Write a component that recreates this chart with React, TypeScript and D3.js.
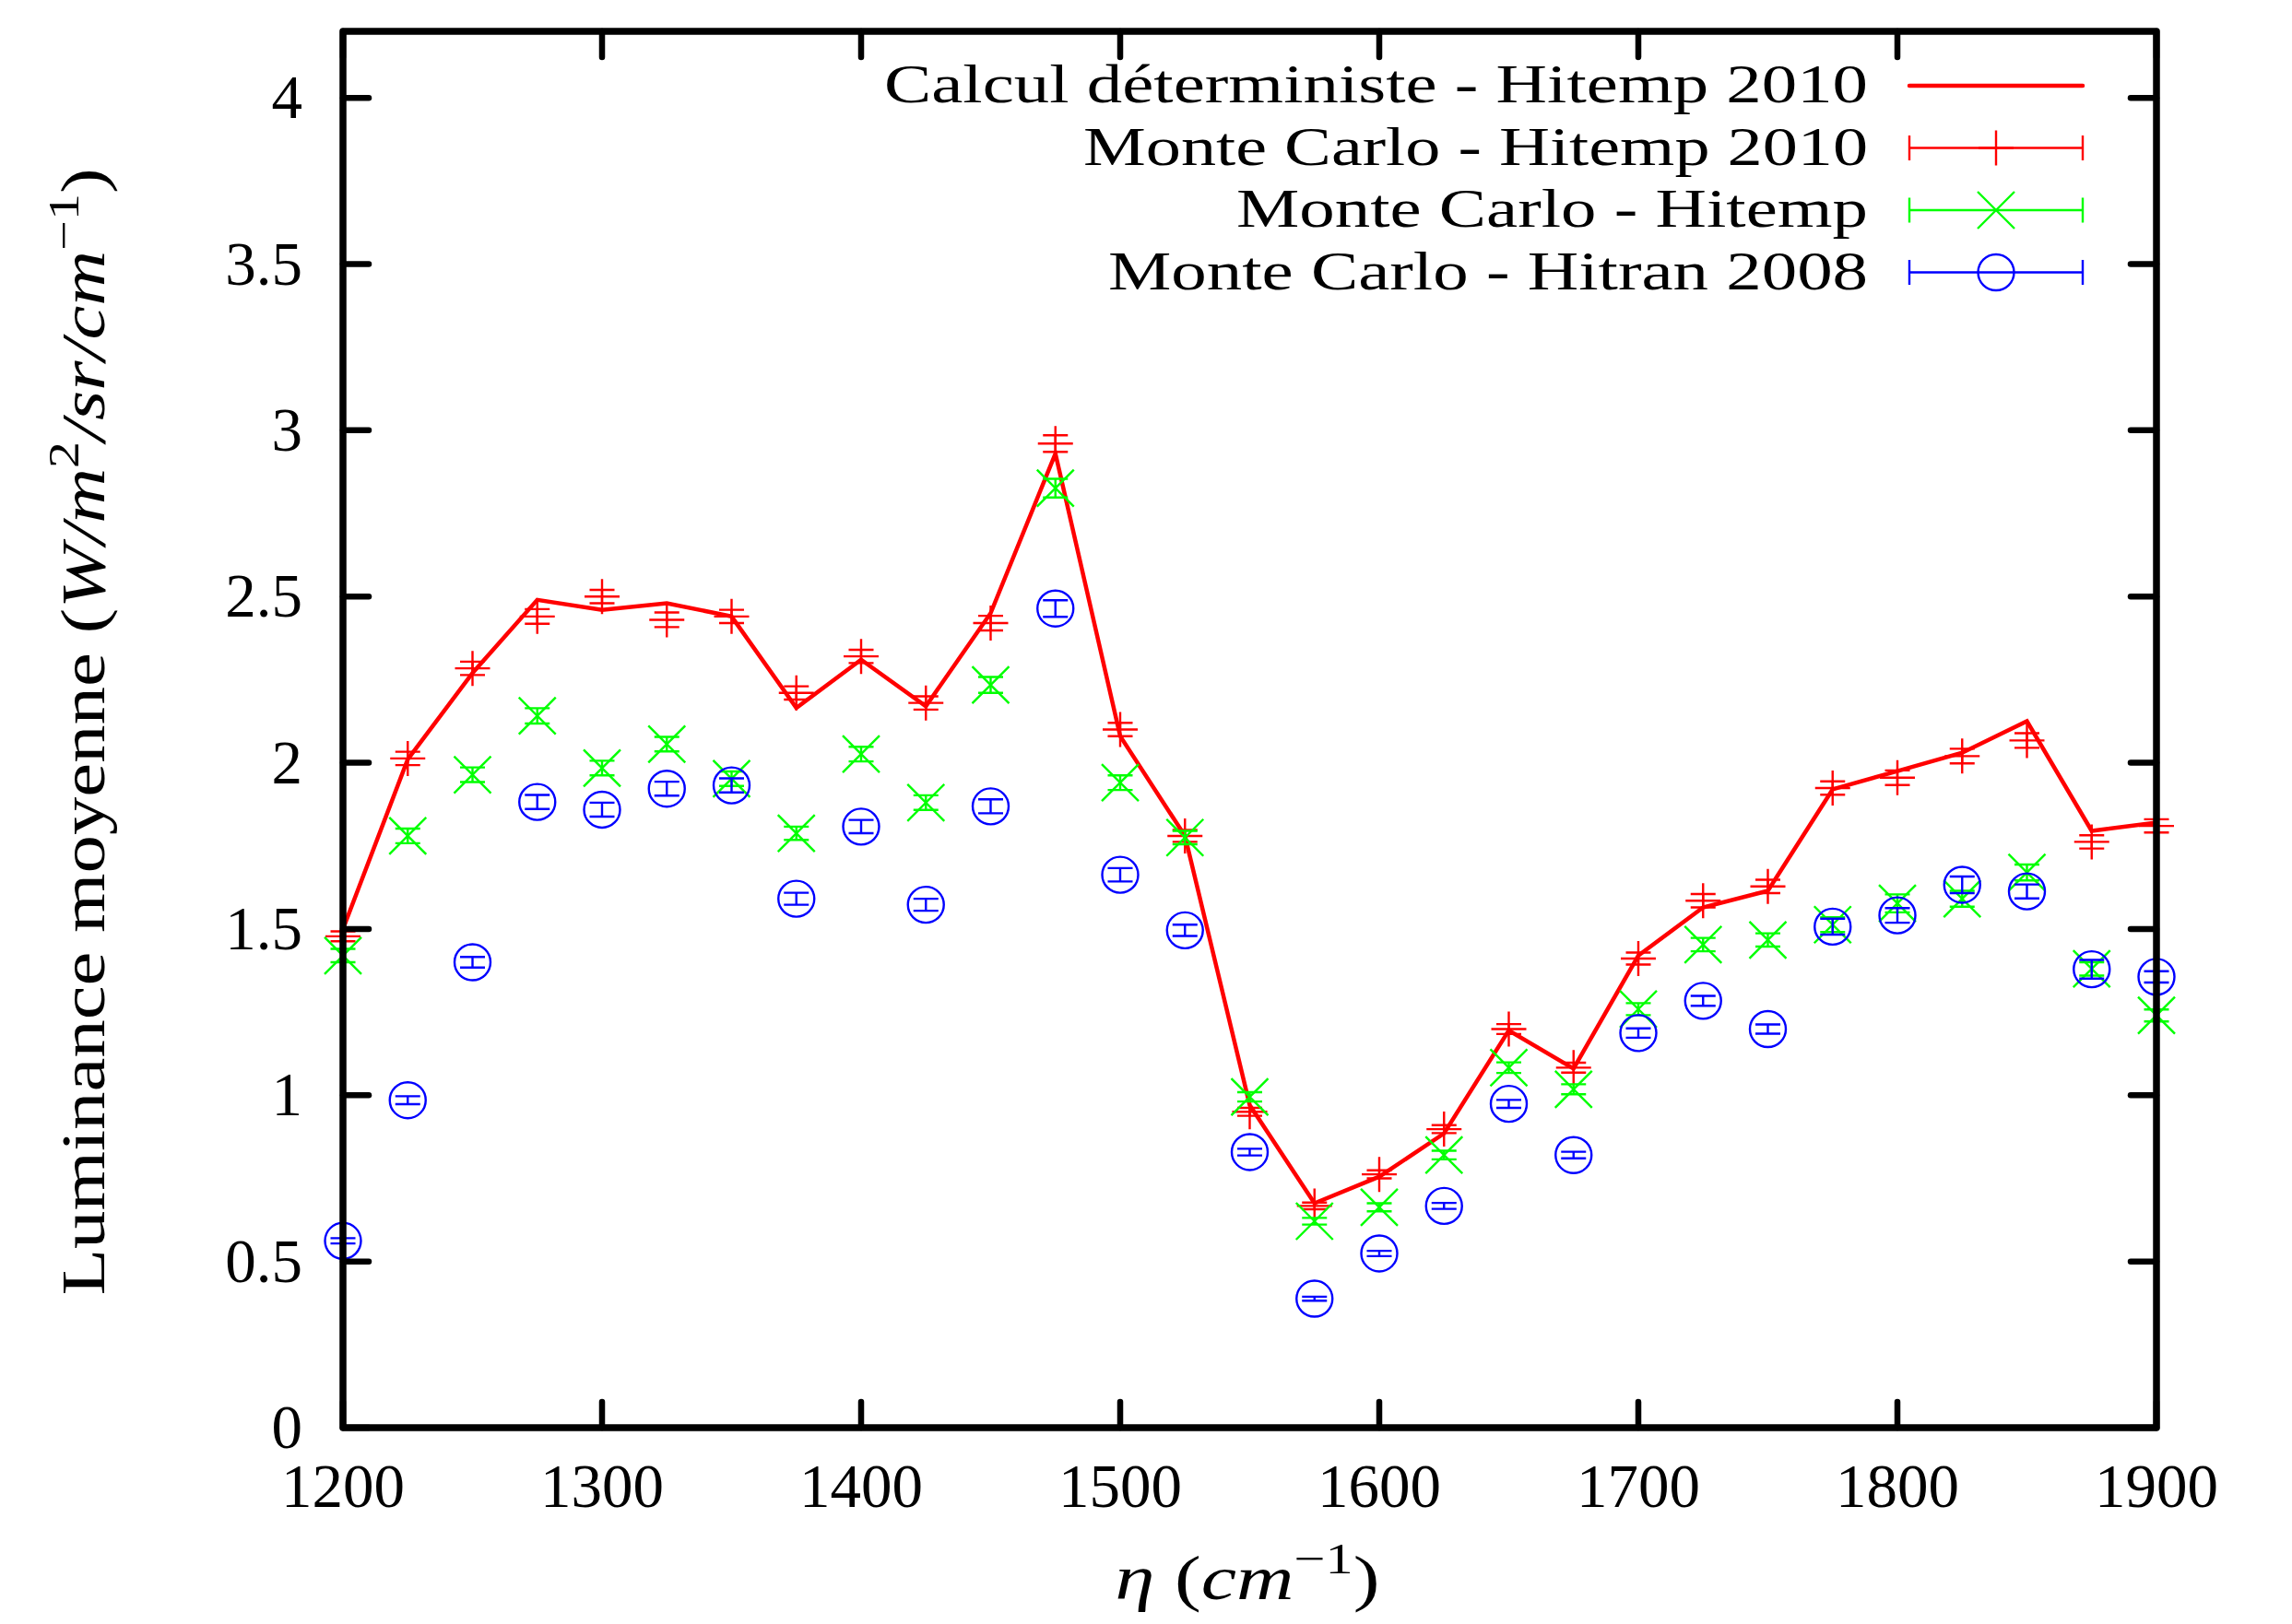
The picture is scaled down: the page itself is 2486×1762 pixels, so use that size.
import React, { useEffect } from "react";
import * as d3 from "d3";

// ---------- data ----------
const wavenumbers = [
  1200, 1225, 1250, 1275, 1300, 1325, 1350, 1375, 1400, 1425, 1450, 1475, 1500, 1525,
  1550, 1575, 1600, 1625, 1650, 1675, 1700, 1725, 1750, 1775, 1800, 1825, 1850, 1875, 1900,
];

const deterministic = [
  1.5, 2.01, 2.27, 2.49, 2.46, 2.48, 2.44, 2.165, 2.31, 2.17, 2.45, 2.93, 2.08, 1.78,
  0.97, 0.675, 0.755, 0.885, 1.195, 1.08, 1.42, 1.565, 1.615, 1.92, 1.975, 2.03, 2.125, 1.795, 1.82,
];

const mcHitemp2010 = [
  1.478, 2.013, 2.284, 2.44, 2.5, 2.43, 2.44, 2.21, 2.32, 2.18, 2.42, 2.96, 2.1, 1.78,
  0.95, 0.667, 0.762, 0.898, 1.199, 1.083, 1.411, 1.585, 1.628, 1.924, 1.955, 2.02, 2.067, 1.762, 1.81,
];
const mcHitemp2010Err = [
  0.015, 0.02, 0.02, 0.022, 0.02, 0.022, 0.02, 0.02, 0.02, 0.02, 0.022, 0.025, 0.02, 0.018,
  0.012, 0.01, 0.012, 0.012, 0.015, 0.015, 0.018, 0.02, 0.02, 0.02, 0.022, 0.022, 0.022, 0.02, 0.02,
];

const mcHitemp = [
  1.42, 1.78, 1.964, 2.141, 1.984, 2.056, 1.952, 1.788, 2.026, 1.88, 2.234, 2.826, 1.94, 1.775,
  0.995, 0.621, 0.663, 0.82, 1.083, 1.018, 1.259, 1.453, 1.467, 1.513, 1.577, 1.591, 1.67, 1.38, 1.24,
];
const mcHitempErr = [
  0.02, 0.022, 0.022, 0.023, 0.022, 0.022, 0.022, 0.02, 0.022, 0.022, 0.024, 0.028, 0.022, 0.02,
  0.014, 0.01, 0.012, 0.013, 0.016, 0.015, 0.018, 0.02, 0.02, 0.022, 0.027, 0.024, 0.024, 0.02, 0.018,
];

const mcHitran2008 = [
  0.562, 0.985, 1.4, 1.882, 1.859, 1.922, 1.932, 1.591, 1.808, 1.573, 1.869, 2.464, 1.663, 1.496,
  0.829, 0.388, 0.524, 0.667, 0.974, 0.82, 1.187, 1.284, 1.199, 1.507, 1.541, 1.633, 1.613, 1.379, 1.356,
];
const mcHitran2008Err = [
  0.008, 0.012, 0.016, 0.021, 0.021, 0.021, 0.021, 0.018, 0.02, 0.018, 0.021, 0.025, 0.02, 0.017,
  0.01, 0.006, 0.008, 0.009, 0.012, 0.01, 0.014, 0.015, 0.014, 0.024, 0.022, 0.025, 0.021, 0.028, 0.017,
];

const xTicks = [1200, 1300, 1400, 1500, 1600, 1700, 1800, 1900];
const yTicks = [0, 0.5, 1, 1.5, 2, 2.5, 3, 3.5, 4];
const legendLabels = [
  "Calcul déterministe - Hitemp 2010",
  "Monte Carlo - Hitemp 2010",
  "Monte Carlo - Hitemp",
  "Monte Carlo - Hitran 2008",
];

// ---------- layout ----------
const W = 2486;
const H = 1762;
const PL = 372, PR = 2339, PT = 34, PB = 1549;
const FONT = "'Liberation Serif', 'Times New Roman', serif";
const FS = 67;
const RED = "#ff0000", GREEN = "#00ff00", BLUE = "#0000ff";

const plusPath = (cx: number, cy: number, s: number) =>
  `M${cx - s},${cy}H${cx + s}M${cx},${cy - s}V${cy + s}`;
const crossPath = (cx: number, cy: number, s: number) =>
  `M${cx - s},${cy - s}L${cx + s},${cy + s}M${cx - s},${cy + s}L${cx + s},${cy - s}`;

export default function App() {
  useEffect(() => {
    document.body.style.margin = "0";
  }, []);

  const x = d3.scaleLinear().domain([1200, 1900]).range([PL, PR]);
  const y = d3.scaleLinear().domain([0, 4.2]).range([PB, PT]);

  const linePath = d3
    .line<number>()
    .x((_, i) => x(wavenumbers[i]))
    .y((d) => y(d))(deterministic) as string;

  const cap = 13.5;
  const errPath = (xv: number, v: number, e: number) => {
    const cx = x(xv);
    const y1 = y(v - e), y2 = y(v + e);
    return `M${cx},${y1}V${y2}M${cx - cap},${y2}H${cx + cap}M${cx - cap},${y1}H${cx + cap}`;
  };

  const series = [
    { vals: mcHitemp2010, err: mcHitemp2010Err, color: RED, marker: "plus" },
    { vals: mcHitemp, err: mcHitempErr, color: GREEN, marker: "cross" },
    { vals: mcHitran2008, err: mcHitran2008Err, color: BLUE, marker: "circle" },
  ];

  const drawMarker = (m: string, cx: number, cy: number, color: string, key: string) => {
    if (m === "plus")
      return <path key={key} d={plusPath(cx, cy, 19)} stroke={color} strokeWidth={2.4} fill="none" />;
    if (m === "cross")
      return <path key={key} d={crossPath(cx, cy, 20)} stroke={color} strokeWidth={2.4} fill="none" />;
    return <circle key={key} cx={cx} cy={cy} r={19.5} stroke={color} strokeWidth={2.4} fill="none" />;
  };

  const tickLen = 28;
  const legRight = 2026;
  const legX1 = 2071, legX2 = 2259, legXm = 2165;
  const legRows = [93, 160.5, 228, 295.5];
  const legLengths = [1067, 851, 685, 824];
  const legFS = 60;

  return (
    <svg
      width={W}
      height={H}
      viewBox={`0 0 ${W} ${H}`}
      style={{ position: "absolute", left: 0, top: 0, background: "#fff" }}
      fontFamily={FONT}
    >
      <rect x={0} y={0} width={W} height={H} fill="#fff" />

      {/* deterministic line */}
      <path d={linePath} fill="none" stroke={RED} strokeWidth={4.5} strokeLinejoin="miter" />

      {/* Monte Carlo series with error bars */}
      {series.map((s, si) => (
        <g key={si}>
          {s.vals.map((v, i) => (
            <g key={i}>
              <path d={errPath(wavenumbers[i], v, s.err[i])} stroke={s.color} strokeWidth={2.4} fill="none" />
              {drawMarker(s.marker, x(wavenumbers[i]), y(v), s.color, "m" + i)}
            </g>
          ))}
        </g>
      ))}

      {/* ticks */}
      <g stroke="#000" strokeWidth={6.5} strokeLinecap="round">
        {xTicks.map((t) => (
          <g key={"xt" + t}>
            <line x1={x(t)} x2={x(t)} y1={PB} y2={PB - tickLen} />
            <line x1={x(t)} x2={x(t)} y1={PT} y2={PT + tickLen} />
          </g>
        ))}
        {yTicks.map((t) => (
          <g key={"yt" + t}>
            <line x1={PL} x2={PL + tickLen} y1={y(t)} y2={y(t)} />
            <line x1={PR} x2={PR - tickLen} y1={y(t)} y2={y(t)} />
          </g>
        ))}
      </g>

      {/* border */}
      <rect
        x={PL}
        y={PT}
        width={PR - PL}
        height={PB - PT}
        fill="none"
        stroke="#000"
        strokeWidth={7.5}
        strokeLinejoin="round"
      />

      {/* tick labels */}
      <g fontSize={FS} fill="#000">
        {xTicks.map((t) => (
          <text key={"xl" + t} x={x(t)} y={1635} textAnchor="middle">
            {String(t)}
          </text>
        ))}
        {yTicks.map((t) => (
          <text key={"yl" + t} x={328} y={y(t) + 22} textAnchor="end">
            {String(t)}
          </text>
        ))}
      </g>

      {/* axis titles */}
      <text x={1353} y={1735} fontSize={FS} textAnchor="middle" textLength={287} lengthAdjust="spacingAndGlyphs">
        <tspan fontStyle="italic">η</tspan>
        <tspan> (</tspan>
        <tspan fontStyle="italic">cm</tspan>
        <tspan fontSize={FS * 0.7} dy={-28}>−1</tspan>
        <tspan dy={28}>)</tspan>
      </text>

      <text
        transform="translate(113, 794) rotate(-90)"
        x={0}
        y={0}
        fontSize={FS}
        textAnchor="middle"
        textLength={1223}
        lengthAdjust="spacingAndGlyphs"
      >
        <tspan>Luminance moyenne (</tspan>
        <tspan fontStyle="italic">W/m</tspan>
        <tspan fontSize={FS * 0.7} dy={-28}>2</tspan>
        <tspan fontStyle="italic" dy={28}>/sr/cm</tspan>
        <tspan fontSize={FS * 0.7} dy={-28}>−1</tspan>
        <tspan dy={28}>)</tspan>
      </text>

      {/* legend */}
      <g fontSize={legFS} fill="#000">
        {legendLabels.map((lab, i) => (
          <text
            key={"lg" + i}
            x={legRight}
            y={legRows[i] + 18}
            textAnchor="end"
            textLength={legLengths[i]}
            lengthAdjust="spacingAndGlyphs"
          >
            {lab}
          </text>
        ))}
      </g>
      <line x1={legX1} x2={legX2} y1={legRows[0]} y2={legRows[0]} stroke={RED} strokeWidth={4.5} strokeLinecap="round" />
      {series.map((s, si) => {
        const ry = legRows[si + 1];
        return (
          <g key={"ls" + si}>
            <path
              d={`M${legX1},${ry}H${legX2}M${legX1},${ry - 13.5}V${ry + 13.5}M${legX2},${ry - 13.5}V${ry + 13.5}`}
              stroke={s.color}
              strokeWidth={2.4}
              fill="none"
            />
            {drawMarker(s.marker, legXm, ry, s.color, "lm" + si)}
          </g>
        );
      })}
    </svg>
  );
}
